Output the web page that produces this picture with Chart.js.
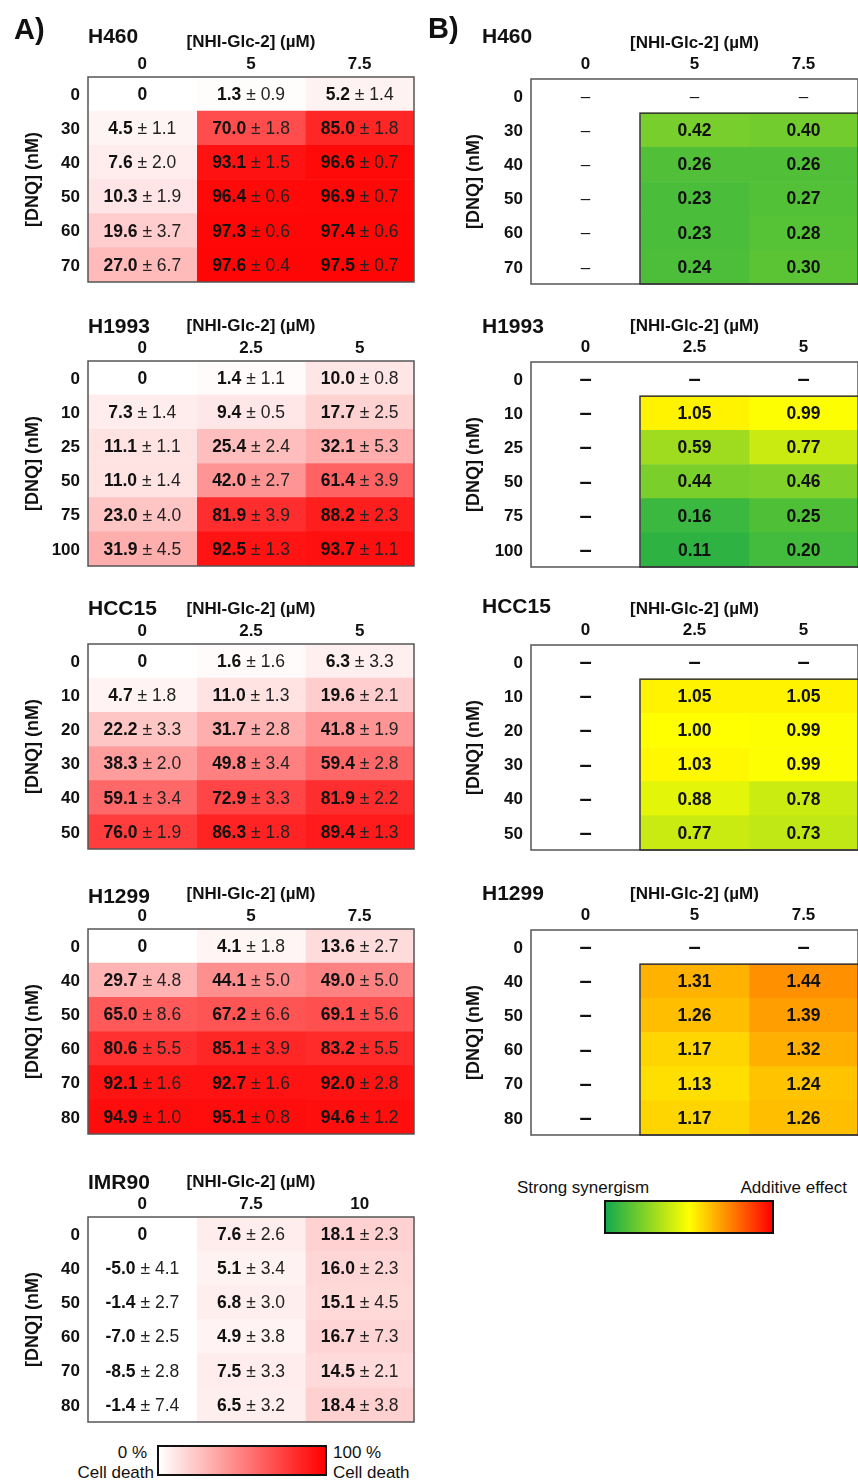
<!DOCTYPE html>
<html>
<head>
<meta charset="utf-8">
<script src="https://cdn.jsdelivr.net/npm/chart.js@4.4.1/dist/chart.umd.min.js"></script>
<style>
body { margin: 0; width: 858px; height: 1481px; overflow: hidden; background: #fff; position: relative;
       font-family: 'Liberation Sans', Arial, sans-serif; color: #111; }
canvas { position: absolute; }
.t { position: absolute; white-space: nowrap; transform: translateY(-50%); line-height: 1; }
.bar { position: absolute; box-sizing: border-box; border: 2px solid #111; }
</style>
</head>
<body>
<script>
// ---- A) % cell death, mean and sd per NHI-Glc-2 column ----
const h460Rows = ['0', '30', '40', '50', '60', '70'];
const h460Cols = ['0', '5', '7.5'];
const h460Mean = [[0, 4.5, 7.6, 10.3, 19.6, 27.0], [1.3, 70.0, 93.1, 96.4, 97.3, 97.6], [5.2, 85.0, 96.6, 96.9, 97.4, 97.5]];
const h460Sd = [[null, 1.1, 2.0, 1.9, 3.7, 6.7], [0.9, 1.8, 1.5, 0.6, 0.6, 0.4], [1.4, 1.8, 0.7, 0.7, 0.6, 0.7]];

const h1993Rows = ['0', '10', '25', '50', '75', '100'];
const h1993Cols = ['0', '2.5', '5'];
const h1993Mean = [[0, 7.3, 11.1, 11.0, 23.0, 31.9], [1.4, 9.4, 25.4, 42.0, 81.9, 92.5], [10.0, 17.7, 32.1, 61.4, 88.2, 93.7]];
const h1993Sd = [[null, 1.4, 1.1, 1.4, 4.0, 4.5], [1.1, 0.5, 2.4, 2.7, 3.9, 1.3], [0.8, 2.5, 5.3, 3.9, 2.3, 1.1]];

const hcc15Rows = ['0', '10', '20', '30', '40', '50'];
const hcc15Cols = ['0', '2.5', '5'];
const hcc15Mean = [[0, 4.7, 22.2, 38.3, 59.1, 76.0], [1.6, 11.0, 31.7, 49.8, 72.9, 86.3], [6.3, 19.6, 41.8, 59.4, 81.9, 89.4]];
const hcc15Sd = [[null, 1.8, 3.3, 2.0, 3.4, 1.9], [1.6, 1.3, 2.8, 3.4, 3.3, 1.8], [3.3, 2.1, 1.9, 2.8, 2.2, 1.3]];

const h1299Rows = ['0', '40', '50', '60', '70', '80'];
const h1299Cols = ['0', '5', '7.5'];
const h1299Mean = [[0, 29.7, 65.0, 80.6, 92.1, 94.9], [4.1, 44.1, 67.2, 85.1, 92.7, 95.1], [13.6, 49.0, 69.1, 83.2, 92.0, 94.6]];
const h1299Sd = [[null, 4.8, 8.6, 5.5, 1.6, 1.0], [1.8, 5.0, 6.6, 3.9, 1.6, 0.8], [2.7, 5.0, 5.6, 5.5, 2.8, 1.2]];

const imr90Rows = ['0', '40', '50', '60', '70', '80'];
const imr90Cols = ['0', '7.5', '10'];
const imr90Mean = [[0, -5.0, -1.4, -7.0, -8.5, -1.4], [7.6, 5.1, 6.8, 4.9, 7.5, 6.5], [18.1, 16.0, 15.1, 16.7, 14.5, 18.4]];
const imr90Sd = [[null, 4.1, 2.7, 2.5, 2.8, 7.4], [2.6, 3.4, 3.0, 3.8, 3.3, 3.2], [2.3, 2.3, 4.5, 7.3, 2.1, 3.8]];

// ---- B) combination index (null = not tested, shown as a dash) ----
const none6 = [null, null, null, null, null, null];
const h460CI = [none6, [null, 0.42, 0.26, 0.23, 0.23, 0.24], [null, 0.40, 0.26, 0.27, 0.28, 0.30]];
const h1993CI = [none6, [null, 1.05, 0.59, 0.44, 0.16, 0.11], [null, 0.99, 0.77, 0.46, 0.25, 0.20]];
const hcc15CI = [none6, [null, 1.05, 1.00, 1.03, 0.88, 0.77], [null, 1.05, 0.99, 0.99, 0.78, 0.73]];
const h1299CI = [none6, [null, 1.31, 1.26, 1.17, 1.13, 1.17], [null, 1.44, 1.39, 1.32, 1.24, 1.26]];

const fam = "'Liberation Sans', Arial, sans-serif";
Chart.defaults.font.family = fam;
Chart.defaults.color = '#111';

// colour scales
function deathColor(v) {
  var t = Math.max(0, Math.min(100, v)) / 100;
  var c = Math.round(255 * (1 - t));
  return 'rgb(255,' + c + ',' + c + ')';
}
const ciStops = [[0, [20, 170, 75]], [0.5, [255, 255, 0]], [0.75, [255, 130, 0]], [1, [255, 0, 0]]];
function ciColor(ci) {
  if (ci == null) return '#ffffff';
  var t = Math.max(0, Math.min(1, ci / 2));
  for (var i = 1; i < ciStops.length; i++) {
    if (t <= ciStops[i][0]) {
      var t0 = ciStops[i - 1][0], c0 = ciStops[i - 1][1], t1 = ciStops[i][0], c1 = ciStops[i][1];
      var f = (t - t0) / (t1 - t0);
      return 'rgb(' + c0.map(function(v, k) { return Math.round(v + (c1[k] - v) * f); }).join(',') + ')';
    }
  }
}

// text inside the cells + frame
const heatText = {
  id: 'heatText',
  afterDatasetsDraw(chart, args, opts) {
    var ctx = chart.ctx, area = chart.chartArea;
    ctx.save();
    ctx.textBaseline = 'middle';
    chart.data.datasets.forEach(function(ds, di) {
      chart.getDatasetMeta(di).data.forEach(function(bar, ri) {
        var cx = (bar.x + bar.base) / 2, cy = bar.y + 1;
        if (opts.kind === 'A') {
          var m = ds.mean[ri], s = ds.sd[ri];
          var bold = s == null ? String(m) : m.toFixed(1);
          var rest = s == null ? '' : ' \u00b1 ' + s.toFixed(1);
          ctx.font = 'bold 17.5px ' + fam;
          var w1 = ctx.measureText(bold).width;
          ctx.font = '17.5px ' + fam;
          var w2 = ctx.measureText(rest).width;
          var x = cx - (w1 + w2) / 2;
          ctx.textAlign = 'left';
          ctx.fillStyle = '#111';
          ctx.font = 'bold 17.5px ' + fam;
          ctx.fillText(bold, x, cy);
          ctx.fillStyle = '#222';
          ctx.font = '17.5px ' + fam;
          ctx.fillText(rest, x + w1, cy);
        } else {
          var v = ds.ci[ri];
          ctx.textAlign = 'center';
          ctx.fillStyle = '#111';
          if (v == null) {
            ctx.font = opts.thinDash ? '17px ' + fam : 'bold 22px ' + fam;
            ctx.fillText('\u2013', cx, cy);
          } else {
            ctx.font = 'bold 17.5px ' + fam;
            ctx.fillText(v.toFixed(2), cx, cy);
          }
        }
      });
    });
    ctx.strokeStyle = '#555';
    ctx.lineWidth = 1.5;
    ctx.strokeRect(area.left, area.top, area.right - area.left, area.bottom - area.top);
    if (opts.kind === 'B') {
      var b = chart.getDatasetMeta(1).data[1];
      var top = b.y - b.height / 2;
      ctx.strokeStyle = '#333';
      ctx.strokeRect(b.base, top, area.right + 2 - b.base, area.bottom - top);
    }
    ctx.restore();
  }
};

function heatmap(p, kind) {
  var isA = kind === 'A';
  var gridLeft = isA ? 88 : 531, axisW = isA ? 70 : 72, gridW = isA ? 326 : 327, gridH = 205, headH = 50;
  var cv = document.createElement('canvas');
  cv.width = axisW + gridW + 2;
  cv.height = headH + gridH + 2;
  cv.style.left = (gridLeft - axisW) + 'px';
  cv.style.top = (p.top - headH) + 'px';
  document.body.appendChild(cv);

  var datasets = p.cols.map(function(c, ci) {
    return {
      data: p.rows.map(function() { return [ci, ci + 1]; }),
      backgroundColor: isA ? p.mean[ci].map(deathColor) : p.ci[ci].map(ciColor),
      barPercentage: 1, categoryPercentage: 1, grouped: false, borderWidth: 0,
      mean: isA ? p.mean[ci] : null, sd: isA ? p.sd[ci] : null, ci: isA ? null : p.ci[ci]
    };
  });

  return new Chart(cv, {
    type: 'bar',
    data: { labels: p.rows, datasets: datasets },
    options: {
      indexAxis: 'y', responsive: false, animation: false, events: [],
      layout: { padding: { top: 0, left: 0, right: 2, bottom: 2 } },
      plugins: { legend: { display: false }, tooltip: { enabled: false },
                 heatText: { kind: kind, thinDash: p.thinDash } },
      scales: {
        x: {
          type: 'linear', position: 'top', min: 0, max: 3, bounds: 'data',
          grid: { display: false, drawTicks: false }, border: { display: false },
          afterBuildTicks: function(ax) { ax.ticks = p.cols.map(function(c, i) { return { value: i + 0.5 }; }); },
          afterFit: function(ax) { ax.height = headH; ax.paddingLeft = 0; ax.paddingRight = 0; },
          ticks: { callback: function(v, i) { return p.cols[i]; }, padding: isA ? 2 : 4,
                   font: { size: 17, weight: 'bold' }, color: '#111', autoSkip: false, maxRotation: 0 },
          title: { display: true, text: '[NHI-Glc-2] (\u00b5M)', font: { size: 17, weight: 'bold' }, color: '#111',
                   padding: { top: isA ? 5 : 4, bottom: 0 } }
        },
        y: {
          type: 'category', position: 'left',
          grid: { display: false, drawTicks: false }, border: { display: false },
          afterFit: function(ax) { ax.width = axisW; ax.paddingTop = 0; ax.paddingBottom = 0; },
          ticks: { padding: 8, labelOffset: 1, font: { size: 17, weight: 'bold' }, color: '#111', autoSkip: false },
          title: { display: true, text: '[DNQ] (nM)', font: { size: 18, weight: 'bold' }, color: '#111',
                   padding: { top: 4, bottom: 0 } }
        }
      }
    },
    plugins: [heatText]
  });
}

function label(text, x, y, size, bold, alignRight) {
  var d = document.createElement('div');
  d.className = 't';
  d.textContent = text;
  d.style.fontSize = size + 'px';
  d.style.fontWeight = bold ? 'bold' : 'normal';
  d.style.top = y + 'px';
  if (alignRight) d.style.right = (858 - x) + 'px'; else d.style.left = x + 'px';
  document.body.appendChild(d);
}

// layout
const panelsA = [
  { name: 'H460', rows: h460Rows, cols: h460Cols, mean: h460Mean, sd: h460Sd, top: 77, ty: 35 },
  { name: 'H1993', rows: h1993Rows, cols: h1993Cols, mean: h1993Mean, sd: h1993Sd, top: 361, ty: 325 },
  { name: 'HCC15', rows: hcc15Rows, cols: hcc15Cols, mean: hcc15Mean, sd: hcc15Sd, top: 644, ty: 607 },
  { name: 'H1299', rows: h1299Rows, cols: h1299Cols, mean: h1299Mean, sd: h1299Sd, top: 929, ty: 895 },
  { name: 'IMR90', rows: imr90Rows, cols: imr90Cols, mean: imr90Mean, sd: imr90Sd, top: 1217, ty: 1181 }
];
const panelsB = [
  { name: 'H460', rows: h460Rows, cols: h460Cols, ci: h460CI, top: 79, ty: 35, thinDash: true },
  { name: 'H1993', rows: h1993Rows, cols: h1993Cols, ci: h1993CI, top: 362, ty: 325 },
  { name: 'HCC15', rows: hcc15Rows, cols: hcc15Cols, ci: hcc15CI, top: 645, ty: 605 },
  { name: 'H1299', rows: h1299Rows, cols: h1299Cols, ci: h1299CI, top: 930, ty: 892 }
];

panelsA.forEach(function(p) { heatmap(p, 'A'); label(p.name, 88, p.ty, 21, true); });
panelsB.forEach(function(p) { heatmap(p, 'B'); label(p.name, 482, p.ty, 21, true); });

label('A)', 14, 29, 29, true);
label('B)', 428, 28, 29, true);

// colour keys
var keyA = document.createElement('div');
keyA.className = 'bar';
keyA.style.cssText = 'left:157px;top:1445px;width:170px;height:31px;background:linear-gradient(to right,#fff,' + deathColor(100) + ');';
document.body.appendChild(keyA);
label('0 %', 147, 1452, 17, false, true);
label('Cell death', 154, 1472, 17, false, true);
label('100 %', 333, 1452, 17, false);
label('Cell death', 333, 1472, 17, false);

var keyB = document.createElement('div');
keyB.className = 'bar';
keyB.style.cssText = 'left:604px;top:1200px;width:170px;height:34px;background:linear-gradient(to right,' +
  ciStops.map(function(s) { return 'rgb(' + s[1].join(',') + ') ' + (s[0] * 100) + '%'; }).join(',') + ');';
document.body.appendChild(keyB);
label('Strong synergism', 517, 1187, 17, false);
label('Additive effect', 847, 1187, 17, false, true);
</script>
</body>
</html>
